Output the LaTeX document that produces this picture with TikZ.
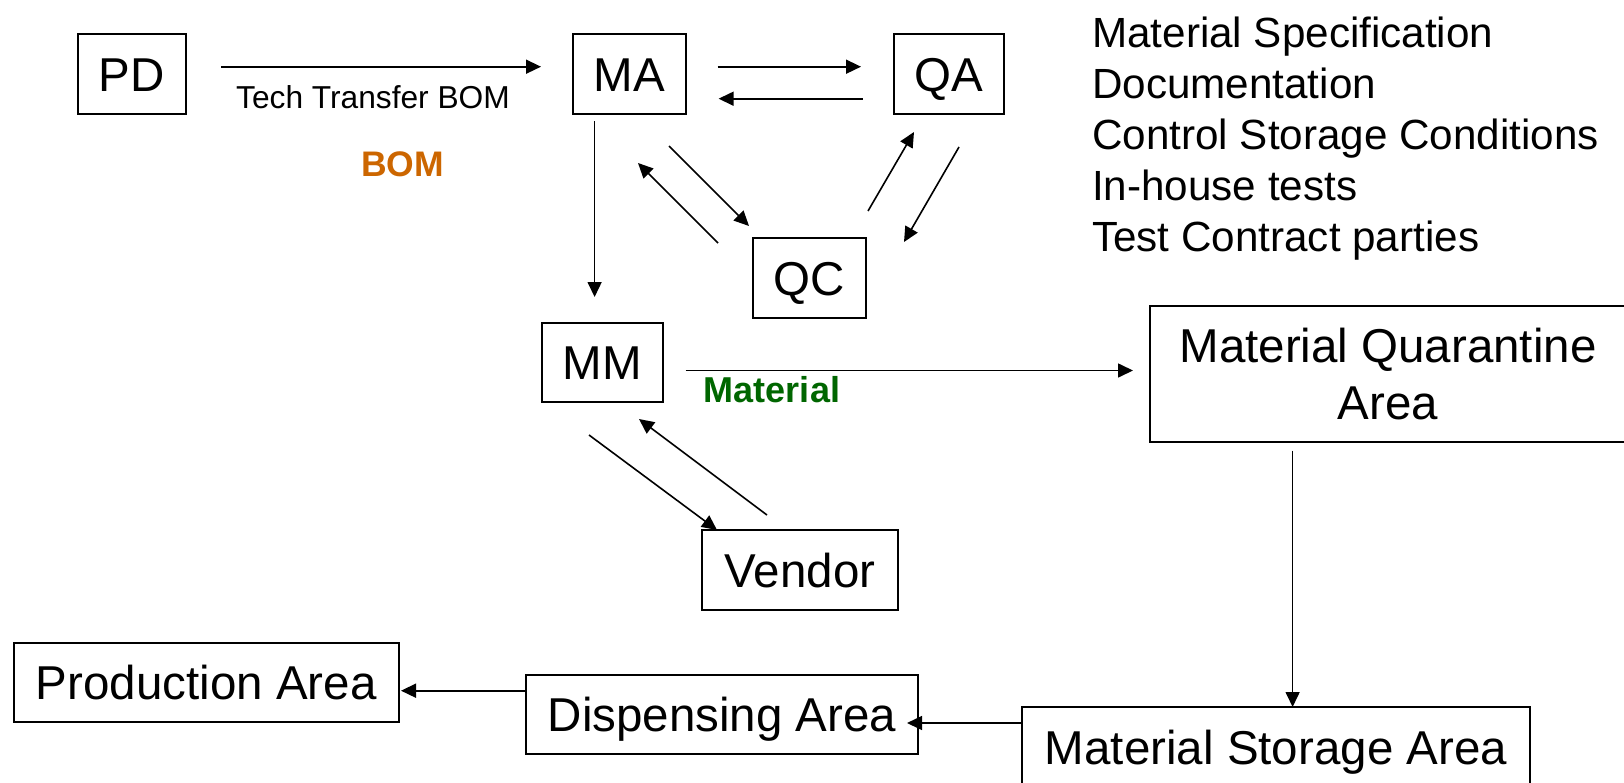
\documentclass[tikz,border=0pt]{standalone}
\usepackage{fontspec}
\setmainfont{Liberation Sans}
\usetikzlibrary{arrows.meta}
\definecolor{bomorange}{RGB}{204,102,0}
\definecolor{matgreen}{RGB}{0,102,0}
\tikzset{
  boxbase/.style={draw, line width=2pt, inner sep=0pt, font=\fontsize{47.5pt}{57pt}\selectfont, align=center},
  box/.style={boxbase, text height=34pt, text depth=0pt},
  arr/.style={-{Triangle[length=15pt,width=14pt]}, line width=1.6pt},
  listtxt/.style={anchor=base west, inner sep=0pt, font=\fontsize{42.2pt}{51pt}\selectfont},
  lbl/.style={anchor=base, inner sep=0pt}
}
\begin{document}
\begin{tikzpicture}[x=1pt,y=-1pt]
\fill[white] (0,0) rectangle (1624,782);
\useasboundingbox (0,0) rectangle (1624,782);

% boxes
\node[box, minimum width=108pt, minimum height=80pt] (PD) at (131.5,74) {PD};
\node[box, minimum width=113pt, minimum height=80pt] (MA) at (629.5,74) {MA};
\node[box, minimum width=110.5pt, minimum height=80pt] (QA) at (948.75,74) {QA};
\node[box, minimum width=113.5pt, minimum height=80pt] (QC) at (809.25,278) {QC};
\node[box, minimum width=121pt, minimum height=79.5pt] (MM) at (602.5,362.25) {MM};
\node[box, minimum width=196pt, minimum height=80pt] (VEN) at (800,570) {Vendor};
\node[boxbase, minimum width=476pt, minimum height=136pt] (MQA) at (1388,374) {Material Quarantine\\Area};
\node[box, minimum width=508pt, minimum height=80pt] (MSA) at (1276,747) {Material Storage Area};
\node[box, minimum width=392pt, minimum height=79pt] (DIS) at (722,714.5) {Dispensing Area};
\node[box, minimum width=385.5pt, minimum height=79pt] (PRO) at (206.25,682) {Production Area};

% labels
\node[lbl, font=\fontsize{31.7pt}{38pt}\selectfont] (tt) at (373,108.3) {Tech Transfer BOM};
\node[lbl, font=\fontsize{35.5pt}{42pt}\selectfont\bfseries, text=bomorange] (bom) at (402.6,176.6) {BOM};
\node[lbl, font=\fontsize{36pt}{43pt}\selectfont\bfseries, text=matgreen] (mat) at (772,402.7) {Material};

% right list
\node[listtxt] (l1) at (1092,47) {Material Specification};
\node[listtxt] (l2) at (1092,98.1) {Documentation};
\node[listtxt] (l3) at (1092,149.2) {Control Storage Conditions};
\node[listtxt] (l4) at (1092,200.3) {In-house tests};
\node[listtxt] (l5) at (1092,251.4) {Test Contract parties};

% connector end points
\coordinate (ttS) at (221,66.7);   \coordinate (ttE) at (541,66.7);
\coordinate (maqaS) at (717.5,66.7); \coordinate (maqaE) at (861,66.7);
\coordinate (qamaS) at (862.5,98.7); \coordinate (qamaE) at (718.6,98.7);
\coordinate (mammS) at (594.6,121);  \coordinate (mammE) at (594.6,297);
\coordinate (maqcS) at (669,146);    \coordinate (maqcE) at (749,226);
\coordinate (qcmaS) at (718,243);    \coordinate (qcmaE) at (638,163);
\coordinate (qcqaS) at (868,211);    \coordinate (qcqaE) at (914,132);
\coordinate (qaqcS) at (959,147);    \coordinate (qaqcE) at (904,242);
\coordinate (mmqS) at (685.7,370.5); \coordinate (mmqE) at (1133,370.5);
\coordinate (mmvS) at (589,435);     \coordinate (mmvE) at (717,530);
\coordinate (vmmS) at (767,515);     \coordinate (vmmE) at (639,419);
\coordinate (qsS) at (1292.6,450.5); \coordinate (qsE) at (1292.6,707);
\coordinate (sdS) at (1022,723);     \coordinate (sdE) at (907,723);
\coordinate (dpS) at (526,690.7);    \coordinate (dpE) at (401,690.7);

% connectors
\draw[arr] (ttS) -- (ttE);
\draw[arr] (maqaS) -- (maqaE);
\draw[arr] (qamaS) -- (qamaE);
\draw[arr] (mammS) -- (mammE);
\draw[arr] (maqcS) -- (maqcE);
\draw[arr] (qcmaS) -- (qcmaE);
\draw[arr] (qcqaS) -- (qcqaE);
\draw[arr] (qaqcS) -- (qaqcE);
\draw[arr] (mmqS) -- (mmqE);
\draw[arr] (mmvS) -- (mmvE);
\draw[arr] (vmmS) -- (vmmE);
\draw[arr] (qsS) -- (qsE);
\draw[arr] (sdS) -- (sdE);
\draw[arr] (dpS) -- (dpE);
\end{tikzpicture}
\end{document}
